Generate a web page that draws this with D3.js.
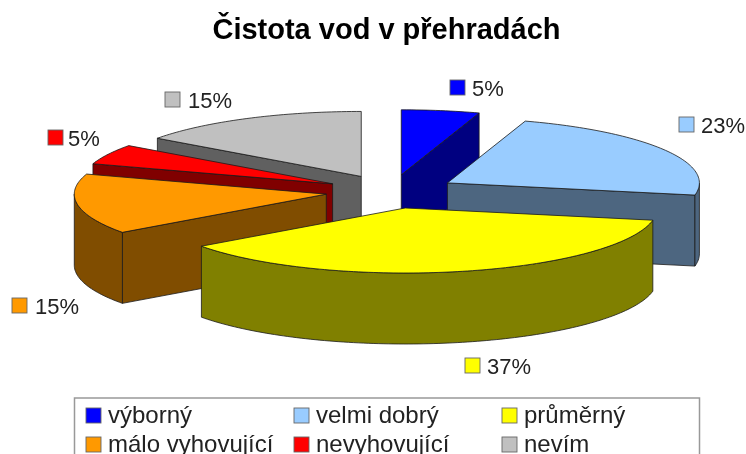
<!DOCTYPE html>
<html>
<head>
<meta charset="utf-8">
<script src="https://cdn.jsdelivr.net/npm/d3@7"></script>
<style>
html,body{margin:0;padding:0;background:#fff;overflow:hidden}
svg{display:block;font-family:"Liberation Sans",Arial,sans-serif;filter:blur(0.45px)}
</style>
</head>
<body>
<svg id="c" width="746" height="454"></svg>
<script>
const categories = ["výborný","velmi dobrý","průměrný","málo vyhovující","nevyhovující","nevím"];
const values = [5,23,37,15,5,15];
const topColors = ["#0000ff","#99ccff","#ffff00","#ff9900","#ff0000","#c0c0c0"];
const sideColors = ["#000080","#4d6680","#808000","#804d00","#800000","#606060"];
const labelAnchors = [[450,80,22],[679,117,22],[465,358,22],[12,298,23],[48,130,20],[165,92,23]];
const legendCols = [86,294,502];
const legendRows = [408,437];

const svg = d3.select("#c");
const cx = 391, cy = 191.5, rx = 252, ry = 65, depth = 71, explode = 0.26;

svg.append("text").attr("x",386.5).attr("y",39).attr("text-anchor","middle")
  .attr("font-size",29).attr("font-weight","bold").attr("fill","#000")
  .text("Čistota vod v přehradách");

const arcs = d3.pie().sort(null).value(d=>d)(values);
const line = d3.line();
const pt = (o,a,z=0) => [o[0]+rx*Math.sin(a), o[1]-ry*Math.cos(a)+z];
const sample = (a0,a1) => {
  const n = Math.max(2,Math.ceil((a1-a0)/0.02));
  return d3.range(n+1).map(i=>a0+(a1-a0)*i/n);
};
const slices = arcs.map((d,i)=>{
  const mid=(d.startAngle+d.endAngle)/2;
  return {i,a0:d.startAngle,a1:d.endAngle,
    o:[cx+explode*rx*Math.sin(mid), cy-explode*ry*Math.cos(mid)]};
}).sort((a,b)=>a.o[1]-b.o[1]);

const pie = svg.append("g").attr("stroke","#1a1a1a").attr("stroke-width",0.8).attr("stroke-linejoin","round");
slices.forEach(s=>{
  const g = pie.append("g");
  const side = sideColors[s.i];
  const face = a => [s.o,pt(s.o,a),pt(s.o,a,depth),[s.o[0],s.o[1]+depth]];
  if (Math.sin(s.a0) < -1e-6) g.append("path").attr("d",line(face(s.a0))+"Z").attr("fill",side);
  if (Math.sin(s.a1) > 1e-6) g.append("path").attr("d",line(face(s.a1))+"Z").attr("fill",side);
  const b0=Math.max(s.a0,Math.PI/2), b1=Math.min(s.a1,3*Math.PI/2);
  if (b1>b0){
    const ang=sample(b0,b1);
    const ptsTop=ang.map(a=>pt(s.o,a));
    const ptsBot=ang.map(a=>pt(s.o,a,depth)).reverse();
    g.append("path").attr("d",line(ptsTop.concat(ptsBot))+"Z").attr("fill",side);
  }
  const top=[s.o].concat(sample(s.a0,s.a1).map(a=>pt(s.o,a)));
  g.append("path").attr("d",line(top)+"Z").attr("fill",topColors[s.i]);
});

const swatch=(x,y,i,sz)=>svg.append("rect").attr("x",x).attr("y",y).attr("width",sz).attr("height",sz)
  .attr("fill",topColors[i]).attr("stroke","#666").attr("stroke-width",0.9);

values.forEach((v,i)=>{
  const [x,y,gap]=labelAnchors[i];
  swatch(x,y,i,15);
  svg.append("text").attr("x",x+gap).attr("y",y+15.5).attr("font-size",22).attr("fill","#222").text(v+"%");
});

svg.append("rect").attr("x",74.5).attr("y",398).attr("width",625).attr("height",70)
  .attr("fill","#fff").attr("stroke","#999").attr("stroke-width",1.5);
categories.forEach((c,i)=>{
  const x=legendCols[i%3], y=legendRows[Math.floor(i/3)];
  swatch(x,y,i,15);
  svg.append("text").attr("x",x+22).attr("y",y+15).attr("font-size",24).attr("fill","#222").text(c);
});
</script>
</body>
</html>
